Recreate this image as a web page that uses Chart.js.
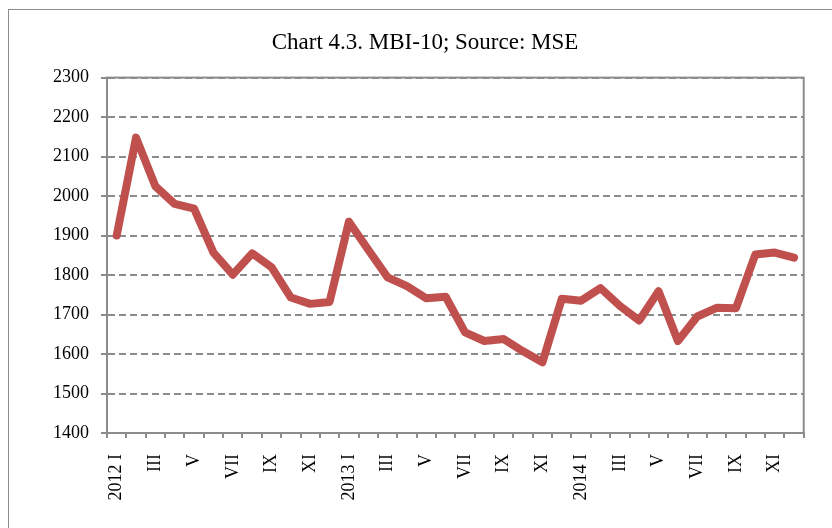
<!DOCTYPE html>
<html>
<head>
<meta charset="utf-8">
<title>MBI-10</title>
<script src="https://cdn.jsdelivr.net/npm/chart.js@4.4.1/dist/chart.umd.min.js"></script>
<style>
    html, body { margin: 0; padding: 0; background: #fff; overflow: hidden; }
    #frame { position: absolute; left: 8px; top: 9px; width: 900px; height: 600px; border: 1px solid #8c8c8c; }
    #wrap { position: absolute; left: 0; top: 0; width: 832px; height: 528px; }
</style>
</head>
<body>
<div id="frame"></div>
<div id="wrap"><canvas id="chart"></canvas></div>
<script>
const years = ['2012', '2013', '2014'];
const months = ['I', 'II', 'III', 'IV', 'V', 'VI', 'VII', 'VIII', 'IX', 'X', 'XI', 'XII'];

// one label per month, January carries the year
const monthLabels = [];
for (const year of years) {
    for (const month of months) {
        monthLabels.push(month === 'I' ? `${year} I` : month);
    }
}

const mbi10 = [
    1900, 2148, 2025, 1980, 1968, 1857, 1801, 1855, 1820, 1743, 1727, 1732,
    1935, 1864, 1794, 1772, 1741, 1745, 1655, 1633, 1638, 1607, 1579, 1740,
    1735, 1767, 1722, 1685, 1759, 1633, 1695, 1717, 1716, 1852, 1857, 1844
];

const yMin = 1400;
const yMax = 2300;
const yStep = 100;

const gray = '#8c8c8c';
const serif = 'Liberation Serif';

const plotBorder = {
    id: 'plotBorder',
    beforeDatasetsDraw(chart) {
        const { ctx, chartArea: a } = chart;
        ctx.save();
        ctx.strokeStyle = gray;
        ctx.lineWidth = 2;
        ctx.strokeRect(a.left, a.top, a.right - a.left, a.bottom - a.top);
        ctx.restore();
    }
};

new Chart(document.getElementById('chart'), {
    type: 'line',
    data: {
        labels: monthLabels,
        datasets: [{
            label: 'MBI-10',
            data: mbi10,
            borderColor: '#C0504D',
            borderWidth: 8,
            borderJoinStyle: 'round',
            borderCapStyle: 'round',
            pointRadius: 0,
            tension: 0
        }]
    },
    options: {
        responsive: true,
        maintainAspectRatio: false,
        animation: false,
        layout: {
            padding: { top: 0, right: 27, bottom: 0, left: 45 }
        },
        plugins: {
            legend: { display: false },
            tooltip: { enabled: false },
            title: {
                display: true,
                text: 'Chart 4.3. MBI-10; Source: MSE',
                color: '#000',
                font: { family: serif, size: 23, weight: 'normal' },
                padding: { top: 29, bottom: 21 }
            }
        },
        scales: {
            x: {
                offset: true,
                afterFit: (scale) => { scale.height = 95; },
                grid: {
                    offset: true,
                    drawOnChartArea: false,
                    drawTicks: true,
                    tickLength: 5,
                    color: gray,
                    lineWidth: 2
                },
                border: { color: gray, width: 2 },
                ticks: {
                    autoSkip: false,
                    minRotation: 90,
                    maxRotation: 90,
                    padding: 16,
                    color: '#000',
                    font: { family: serif, size: 18 },
                    callback: function (value, index) {
                        return index % 2 === 0 ? this.getLabelForValue(value) : '';
                    }
                }
            },
            y: {
                min: yMin,
                max: yMax,
                afterFit: (scale) => { scale.width = 62; },
                grid: {
                    color: gray,
                    lineWidth: 2,
                    tickLength: 6,
                    tickColor: gray
                },
                border: { color: gray, width: 2, dash: [7, 4] },
                ticks: {
                    stepSize: yStep,
                    padding: 12,
                    color: '#000',
                    font: { family: serif, size: 18 },
                    callback: (value) => String(value)
                }
            }
        }
    },
    plugins: [plotBorder]
});
</script>
</body>
</html>
